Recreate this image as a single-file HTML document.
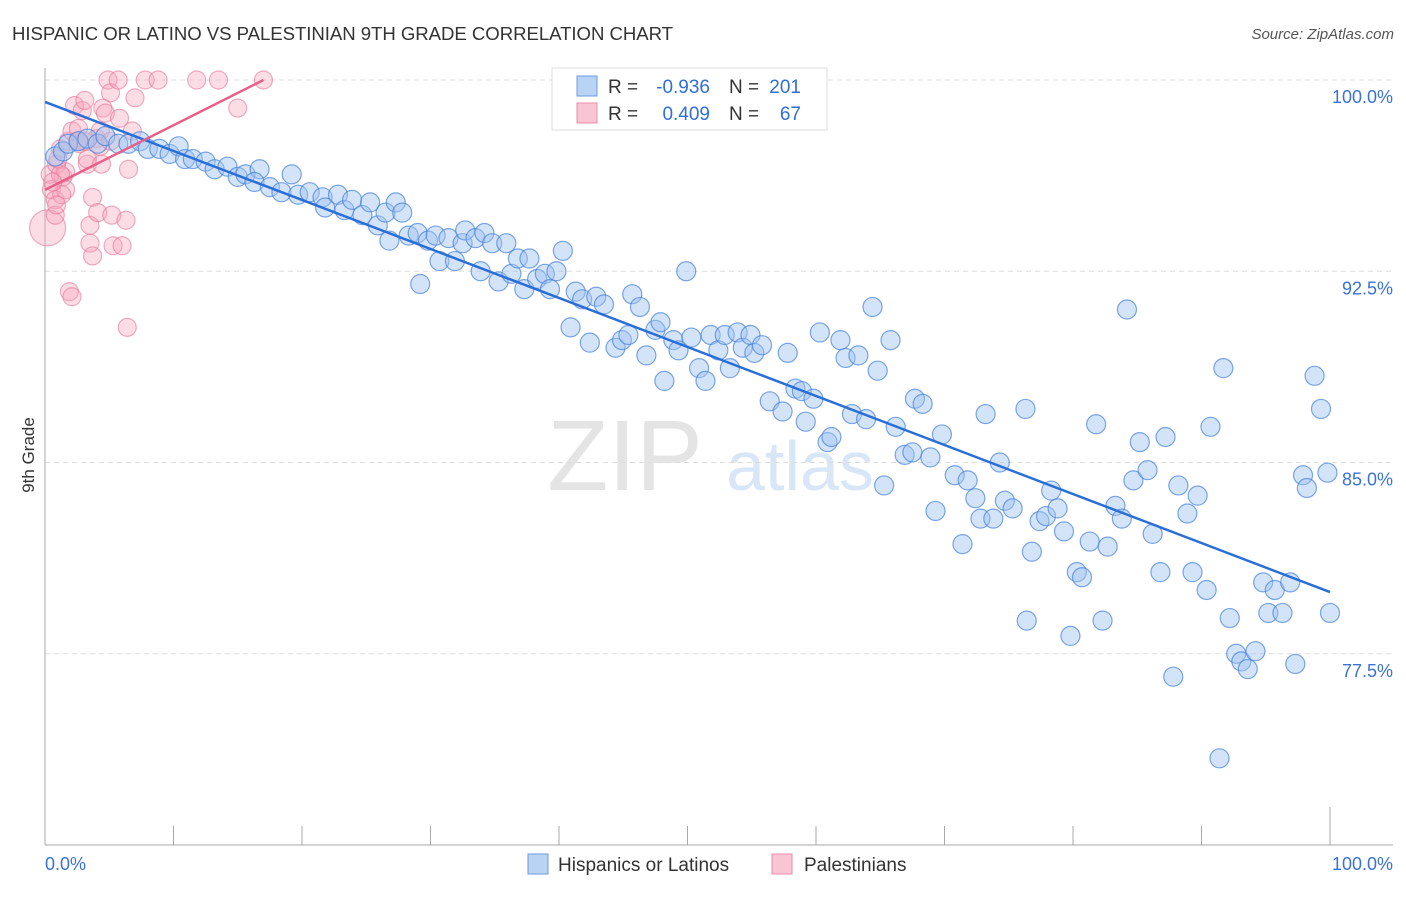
<!DOCTYPE html>
<html><head><meta charset="utf-8"><style>
body{margin:0;background:#fff;font-family:"Liberation Sans",sans-serif;}
svg text{font-family:"Liberation Sans",sans-serif;}
</style></head><body>
<svg id="c" width="1406" height="892" xmlns="http://www.w3.org/2000/svg">
<text x="12" y="40" font-size="18.6" fill="#333" textLength="661">HISPANIC OR LATINO VS PALESTINIAN 9TH GRADE CORRELATION CHART</text>
<text x="1394" y="39" font-size="15" fill="#555" text-anchor="end" font-style="italic">Source: ZipAtlas.com</text>
<text x="625" y="490" font-size="100" fill="#e4e4e4" font-family="Liberation Serif" text-anchor="middle">ZIP</text>
<text x="800" y="490" font-size="70" fill="#d8e6f7" text-anchor="middle">atlas</text>
<g id="grid"></g><g id="axes"></g><g id="pts"></g><g id="lines"></g>
<text transform="translate(34,455) rotate(-90)" font-size="17" fill="#333" text-anchor="middle">9th Grade</text>
<g>
<rect x="552" y="68" width="275" height="62" fill="#fff" stroke="#ddd"/>
<rect x="577" y="76" width="20" height="20" fill="#b9d3f5" stroke="#6d9be0"/>
<rect x="577" y="103" width="20" height="20" fill="#f9c5d4" stroke="#eb8fac"/>
<text x="608" y="93" font-size="19" fill="#333">R =</text>
<text x="710" y="93" font-size="19" fill="#2f6fd6" text-anchor="end">-0.936</text>
<text x="729" y="93" font-size="19" fill="#333">N =</text>
<text x="801" y="93" font-size="19" fill="#2f6fd6" text-anchor="end">201</text>
<text x="608" y="120" font-size="19" fill="#333">R =</text>
<text x="710" y="120" font-size="19" fill="#2f6fd6" text-anchor="end">0.409</text>
<text x="729" y="120" font-size="19" fill="#333">N =</text>
<text x="801" y="120" font-size="19" fill="#2f6fd6" text-anchor="end">67</text>
</g>
<g>
<rect x="528" y="854" width="20" height="20" fill="#b9d3f5" stroke="#6d9be0"/>
<text x="558" y="871" font-size="19" fill="#333">Hispanics or Latinos</text>
<rect x="772" y="854" width="20" height="20" fill="#f9c5d4" stroke="#eb8fac"/>
<text x="804" y="871" font-size="19" fill="#333">Palestinians</text>
</g>
</svg>
<script>
const yTicks=[100,92.5,85,77.5];
const yTickLabels=["100.0%","92.5%","85.0%","77.5%"];
const xTicks=[0,10,20,30,40,50,60,70,80,90,100];
const blueX=[0.8,1.4,1.8,2.6,3.3,4.1,4.7,5.7,6.5,7.4,8.0,8.9,9.7,10.4,10.9,11.5,12.5,13.2,14.2,15.0,15.6,16.7,16.3,17.5,18.4,19.2,19.7,20.6,21.6,21.8,22.8,23.3,23.9,24.7,25.3,25.9,26.5,27.3,27.8,26.8,28.3,29.0,29.8,30.4,31.4,30.7,31.9,32.5,32.7,33.5,34.2,34.8,33.9,35.9,29.2,35.3,36.3,36.8,37.7,37.3,38.3,38.9,39.8,39.3,40.3,40.9,41.3,41.8,42.4,42.9,43.5,44.4,44.9,45.4,45.7,46.3,46.8,47.5,47.9,48.2,48.9,49.3,49.9,50.3,50.9,51.4,51.8,52.4,52.9,53.3,53.9,54.3,54.9,55.2,55.8,56.4,57.4,57.8,58.4,58.9,59.2,59.8,60.3,60.9,61.2,61.9,62.3,62.8,63.3,63.9,64.4,64.8,65.3,65.8,66.2,66.9,67.5,67.7,68.3,68.9,69.3,69.8,70.8,71.4,71.8,72.4,72.8,73.2,73.8,74.3,74.7,75.3,76.4,76.3,76.8,77.4,77.9,78.3,78.8,79.3,79.8,80.3,80.7,81.3,81.8,82.3,82.7,83.3,83.8,84.2,84.7,85.2,85.8,86.2,86.8,87.2,87.8,88.2,88.9,89.3,89.7,90.4,90.7,91.4,91.7,92.2,92.7,93.1,93.6,94.2,94.8,95.2,95.7,96.3,96.9,97.3,97.9,98.2,98.8,99.3,99.8,100];
const blueY=[97.0,97.2,97.5,97.6,97.7,97.5,97.8,97.5,97.5,97.6,97.3,97.3,97.1,97.4,96.9,96.9,96.8,96.5,96.6,96.2,96.3,96.5,96.0,95.8,95.6,96.3,95.5,95.6,95.4,95.0,95.5,94.9,95.3,94.7,95.2,94.3,94.8,95.2,94.8,93.7,93.9,94.0,93.7,93.9,93.8,92.9,92.9,93.6,94.1,93.8,94.0,93.6,92.5,93.6,92.0,92.1,92.4,93.0,93.0,91.8,92.2,92.4,92.5,91.8,93.3,90.3,91.7,91.4,89.7,91.5,91.2,89.5,89.8,90.0,91.6,91.1,89.2,90.2,90.5,88.2,89.8,89.4,92.5,89.9,88.7,88.2,90.0,89.4,90.0,88.7,90.1,89.5,90.0,89.3,89.6,87.4,87.0,89.3,87.9,87.8,86.6,87.5,90.1,85.8,86.0,89.8,89.1,86.9,89.2,86.7,91.1,88.6,84.1,89.8,86.4,85.3,85.4,87.5,87.3,85.2,83.1,86.1,84.5,81.8,84.3,83.6,82.8,86.9,82.8,85.0,83.5,83.2,78.8,87.1,81.5,82.7,82.9,83.9,83.2,82.3,78.2,80.7,80.5,81.9,86.5,78.8,81.7,83.3,82.8,91.0,84.3,85.8,84.7,82.2,80.7,86.0,76.6,84.1,83.0,80.7,83.7,80.0,86.4,73.4,88.7,78.9,77.5,77.2,76.9,77.6,80.3,79.1,80.0,79.1,80.3,77.1,84.5,84.0,88.4,87.1,84.6,79.1];
const pinkX=[0.2,0.4,0.5,0.8,0.8,0.9,1.2,1.4,1.6,1.8,2.1,2.3,2.6,2.7,2.9,3.1,3.3,3.5,3.5,3.7,3.7,4.0,4.1,4.3,4.5,4.7,4.9,5.1,5.2,5.3,5.7,5.8,6.0,6.3,6.5,6.8,7.0,7.8,8.8,11.8,13.5,15.0,17.0,1.9,2.1,6.4,1.2,1.6,3.1,3.3,4.3,5.1,2.6,1.0,1.3,0.6,0.9,4.4];
const pinkY=[94.2,96.3,95.7,95.3,94.7,96.7,97.3,96.2,96.4,97.6,98.0,99.0,98.1,97.5,98.8,99.2,96.7,94.3,93.6,93.1,95.4,97.7,94.8,97.4,98.9,98.7,100,99.5,94.7,93.5,100,98.5,93.5,94.5,96.5,98.0,99.3,100,100,100,100,98.9,100,91.7,91.5,90.3,96.3,95.7,97.6,96.9,98.0,97.6,97.6,96.9,95.5,96.0,95.1,96.7];
const blueLineX=[0,100], blueLineY=[99.14,79.92];
const pinkLineX=[0,17.0], pinkLineY=[95.69,100];
const NS="http://www.w3.org/2000/svg";
const X0=45,X1=1330,YTOP=80,PXPER=25.5;
function sx(v){return X0+(v/100)*(X1-X0);}
function sy(v){return YTOP+(100-v)*PXPER;}
function mk(t,a,p){const e=document.createElementNS(NS,t);for(const k in a)e.setAttribute(k,a[k]);p.appendChild(e);return e;}
const grid=document.getElementById('grid'),axes=document.getElementById('axes'),pts=document.getElementById('pts'),lines=document.getElementById('lines');
yTicks.forEach((t,i)=>{
 const l=mk('line',{x1:X0,x2:1393,y1:sy(t),y2:sy(t),stroke:'#ddd','stroke-dasharray':'5,4'},grid);
 
 
 const tx=mk('text',{x:1393,y:sy(t)+23,'font-size':18,fill:'#3a73d6','text-anchor':'end'},grid);
 tx.textContent=yTickLabels[i];
 
 
});
const ya=mk('line',{x1:X0,x2:X0,y1:68,y2:845,stroke:'#aaa'},axes);


const xa=mk('line',{x1:X0,x2:1393,y1:845,y2:845,stroke:'#aaa'},axes);


xTicks.forEach(t=>{
 const tk=mk('line',{x1:sx(t),x2:sx(t),y1:t===100?807:826,y2:845,stroke:'#aaa'},axes);
 
 
});
const xl0=mk('text',{x:45,y:870,'font-size':18,fill:'#3a73d6'},axes);xl0.textContent='0.0%';


const xl1=mk('text',{x:1393,y:870,'font-size':18,fill:'#3a73d6','text-anchor':'end'},axes);xl1.textContent='100.0%';


pinkX.forEach((v,i)=>{
 const c=mk('circle',{cx:sx(v),cy:sy(pinkY[i]),r:i===0?18:9,fill:'rgba(246,165,190,0.38)',stroke:'rgba(228,120,155,0.6)','stroke-width':1.2},pts);
 
 
});
blueX.forEach((v,i)=>{
 const c=mk('circle',{cx:sx(v),cy:sy(blueY[i]),r:9.5,fill:'rgba(160,196,240,0.45)',stroke:'rgba(70,130,220,0.7)','stroke-width':1.2},pts);
 
 
});
const bl=mk('line',{x1:sx(blueLineX[0]),y1:sy(blueLineY[0]),x2:sx(blueLineX[1]),y2:sy(blueLineY[1]),stroke:'#2a6fd8','stroke-width':2.5},lines);


const pl=mk('line',{x1:sx(pinkLineX[0]),y1:sy(pinkLineY[0]),x2:sx(pinkLineX[1]),y2:sy(pinkLineY[1]),stroke:'#e8608a','stroke-width':2.5},lines);


</script>
</body></html>
